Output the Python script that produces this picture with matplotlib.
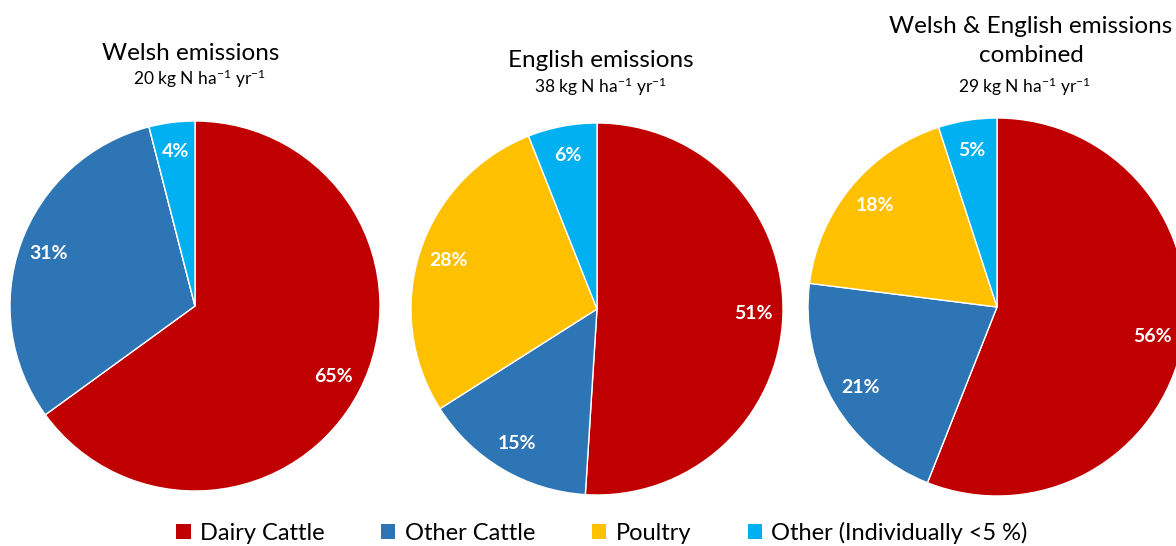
import matplotlib
matplotlib.use("Agg")
import matplotlib.pyplot as plt
from matplotlib.patches import Patch

plt.rcParams["font.family"] = ["Lato", "DejaVu Sans"]
plt.rcParams["mathtext.fontset"] = "custom"
plt.rcParams["mathtext.rm"] = "Lato"
plt.rcParams["mathtext.it"] = "Lato"

# Data
categories = ["Dairy Cattle", "Other Cattle", "Poultry", "Other (Individually <5 %)"]
colors = ["#C00000", "#2E75B6", "#FFC000", "#00B0F0"]
welsh = [65, 31, 0, 4]
english = [51, 15, 28, 6]
combined = [56, 21, 18, 5]
titles = ["Welsh emissions", "English emissions", "Welsh & English emissions\ncombined"]
rates = [20, 38, 29]

W, H = 1176, 546
fig = plt.figure(figsize=(W / 100, H / 100), dpi=100)


def px_axes(cx, cy, r):
    # axes box in pixel units -> figure fraction
    return fig.add_axes([(cx - r) / W, 1 - (cy + r) / H, 2 * r / W, 2 * r / H])


def fmt(p):
    return f"{p:.0f}%" if p > 0.5 else ""


# & Pies
pies = [(welsh, 195, 306, 185), (english, 597, 309, 186), (combined, 997, 307, 189)]
for vals, cx, cy, r in pies:
    ax = px_axes(cx, cy, r)
    wedges, texts, autotexts = ax.pie(
        vals, colors=colors, startangle=90, counterclock=False,
        autopct=fmt, pctdistance=0.84,
        wedgeprops=dict(edgecolor="white", linewidth=1),
        textprops=dict(color="white", fontsize=14, fontweight="bold"),
    )
    ax.set_xlim(-1, 1)
    ax.set_ylim(-1, 1)
    ax.set_aspect("equal")

# & Titles
fig.text(191 / W, 1 - 53 / H, titles[0], ha="center", va="center", fontsize=17.5)
fig.text(601 / W, 1 - 60 / H, titles[1], ha="center", va="center", fontsize=17.5)
fig.text(1031 / W, 1 - 41 / H, titles[2], ha="center", va="center", fontsize=17.5,
         linespacing=1.45)

sub_pos = [(199, 79), (600, 87), (1024, 87)]
for rate, (x, y) in zip(rates, sub_pos):
    fig.text(x / W, 1 - y / H, rf"{rate} kg N ha$^{{-1}}$ yr$^{{-1}}$",
             ha="center", va="center", fontsize=12.5)

# & Legend
handles = [Patch(facecolor=c, edgecolor="none") for c in colors]
fig.legend(handles, categories, loc="center", bbox_to_anchor=(602 / W, 1 - 533 / H),
           ncol=4, frameon=False, fontsize=17, handlelength=0.6, handleheight=0.6,
           handletextpad=0.4, columnspacing=2.4, borderpad=0)

fig.savefig("out.png", dpi=100)
